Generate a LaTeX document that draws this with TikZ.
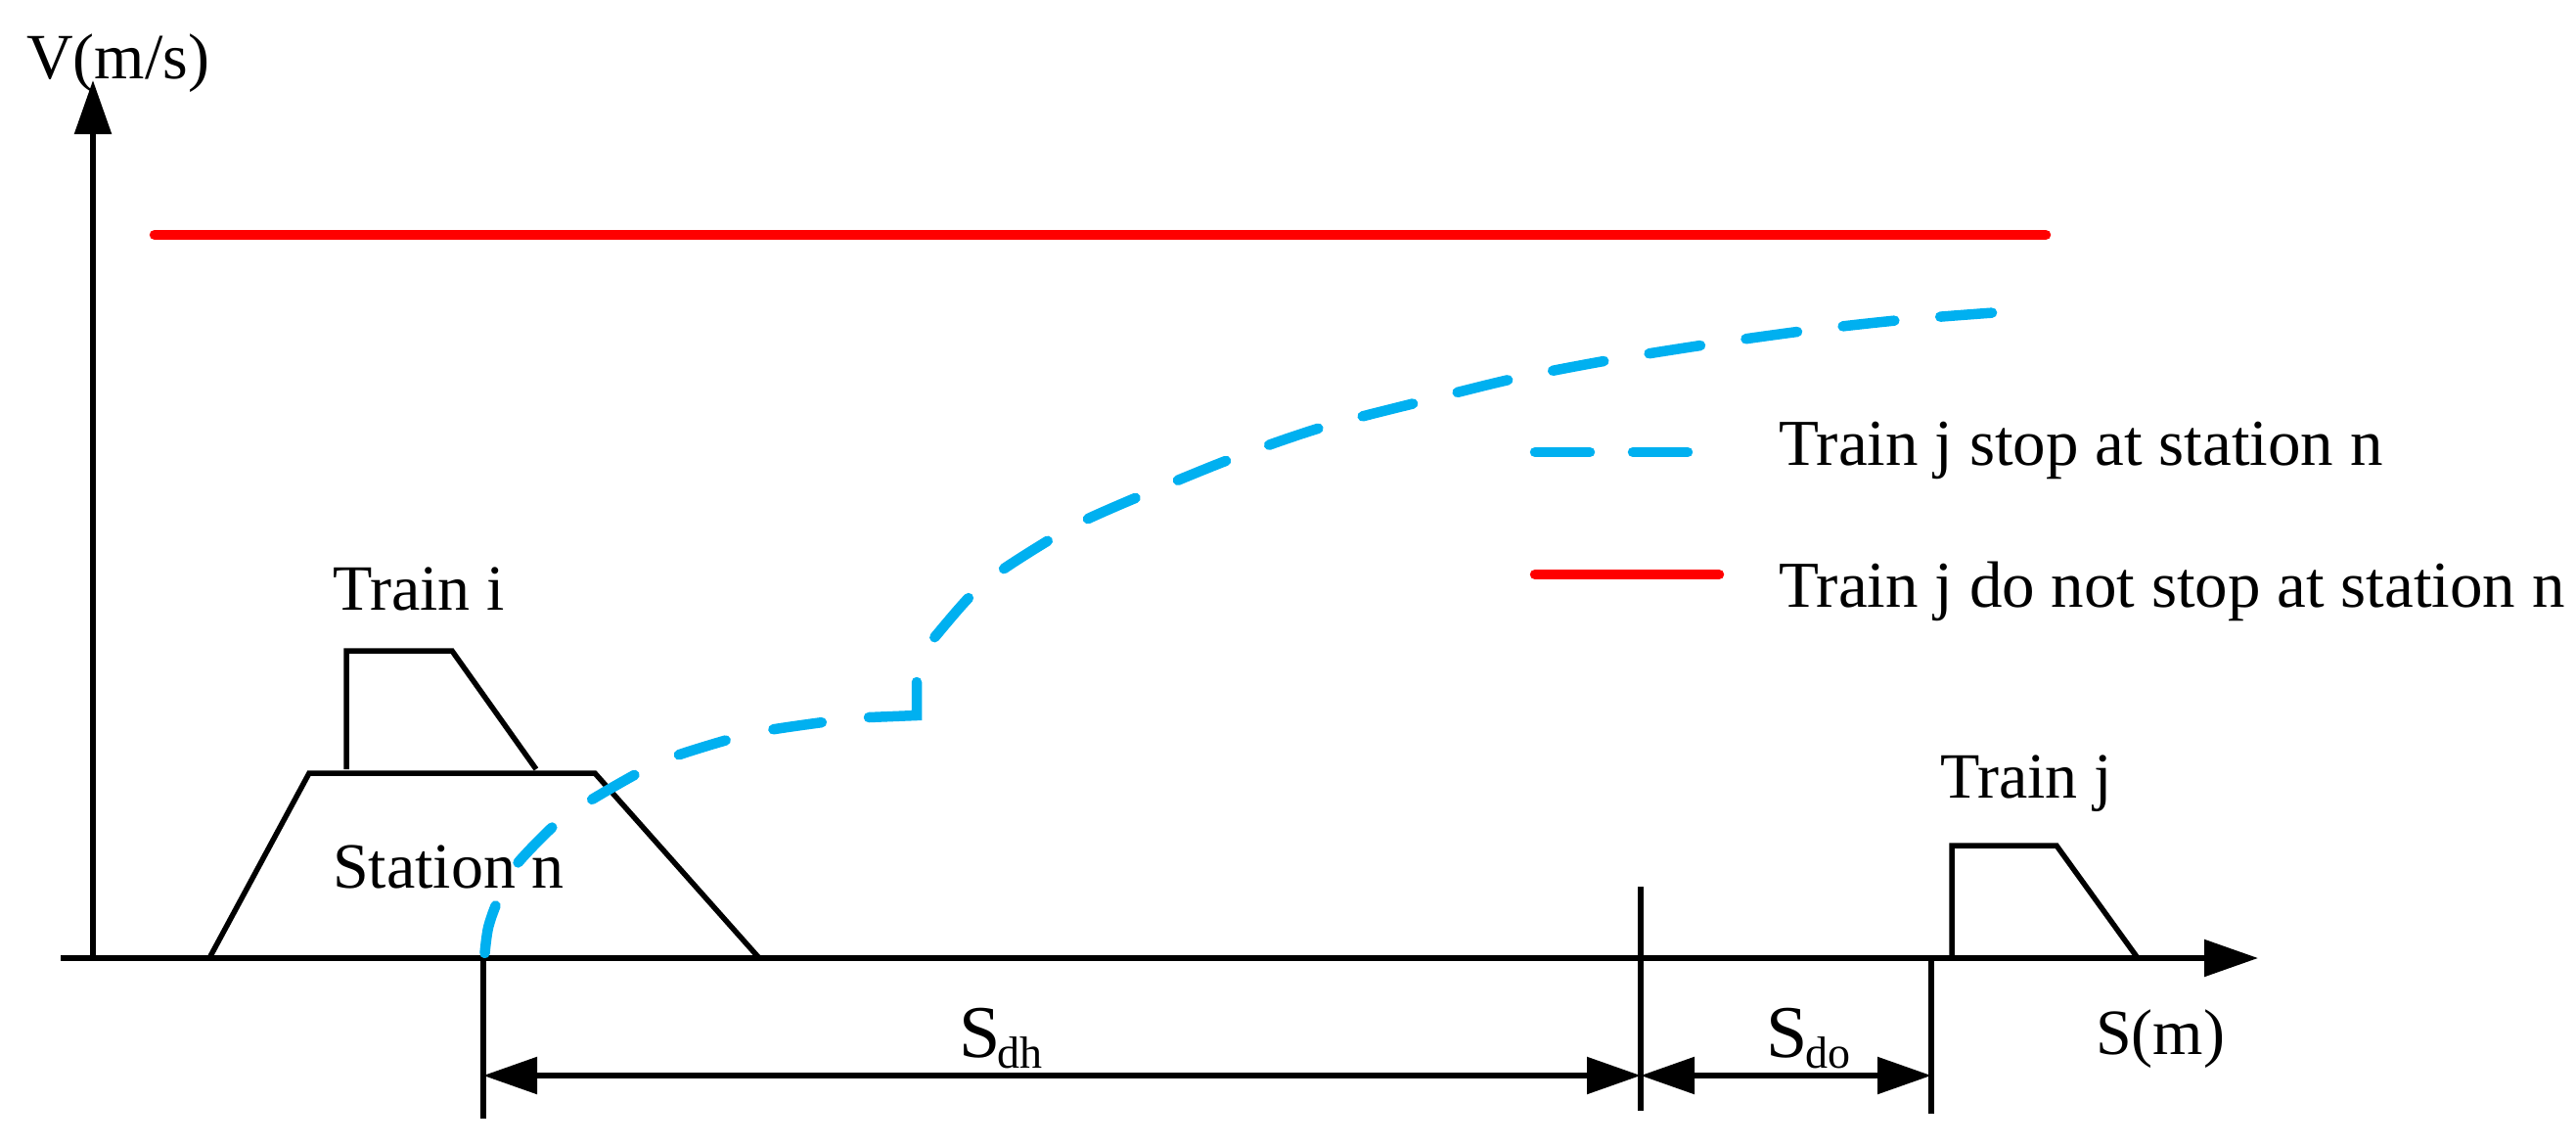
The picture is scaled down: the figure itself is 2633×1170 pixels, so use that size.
\documentclass[tikz,border=0pt]{standalone}
\usepackage{fontspec}
\setmainfont{Liberation Serif}
\usetikzlibrary{arrows.meta}
\definecolor{curveblue}{HTML}{00B0F0}
\definecolor{limitred}{HTML}{FF0000}
\tikzset{
  axisline/.style={line width=5.5pt, -{Triangle[length=55pt,width=37pt]}},
  dimline/.style={line width=5.5pt, {Triangle[length=55pt,width=37pt]}-{Triangle[length=55pt,width=37pt]}},
  blackline/.style={line width=5.5pt, line join=miter},
  bluebase/.style={curveblue, line width=10.5pt, line cap=round, line join=miter},
  bluecurve/.style={bluebase, dash pattern=on 50pt off 50pt},
  bluecurvetwo/.style={bluebase, dash pattern=on 53pt off 47pt},
  bluelegend/.style={bluebase, dash pattern=on 56pt off 44pt},
  redline/.style={limitred, line width=10.5pt, line cap=round},
  lbl/.style={inner sep=0pt, anchor=base west, font=\fontsize{66}{70}\selectfont},
  biglbl/.style={inner sep=0pt, anchor=base west, font=\fontsize{76}{80}\selectfont},
  sublbl/.style={inner sep=0pt, anchor=base west, font=\fontsize{46}{50}\selectfont},
}
\begin{document}
\begin{tikzpicture}[x=1pt,y=-1pt]
\fill[white] (0,0) rectangle (2633,1170);
\useasboundingbox (0,0) rectangle (2633,1170);

% axes
\coordinate (xstart) at (62,979);
\coordinate (xend) at (2308,979);
\coordinate (origin) at (95,979);
\coordinate (yend) at (95,82);
\draw[axisline] (xstart) -- (xend);
\draw[axisline] (origin) -- (yend);
\node[lbl] (vlabel) at (27,80) {V(m/s)};
\node[lbl] (slabel) at (2142,1077) {S(m)};

% speed limit line
\coordinate (r1) at (158,240);
\coordinate (r2) at (2091,240);
\draw[redline] (r1) -- (r2);

% station n
\coordinate (st1) at (214,979);
\coordinate (st2) at (316,790);
\coordinate (st3) at (608,790);
\coordinate (st4) at (776,979);
\draw[blackline] (st1) -- (st2) -- (st3) -- (st4);
\node[lbl] (stn) at (340,907) {Station n};

% train i
\coordinate (ti1) at (354,786);
\coordinate (ti2) at (354,665);
\coordinate (ti3) at (462,665);
\coordinate (ti4) at (548,786);
\draw[blackline] (ti1) -- (ti2) -- (ti3) -- (ti4);
\node[lbl] (traini) at (340,623) {Train i};

% train j
\coordinate (tj1) at (1995,979);
\coordinate (tj2) at (1995,864);
\coordinate (tj3) at (2102,864);
\coordinate (tj4) at (2185,979);
\draw[blackline] (tj1) -- (tj2) -- (tj3) -- (tj4);
\node[lbl] (trainj) at (1983,815) {Train j};

% speed curve of train j stopping at station n
\draw[bluecurve] plot[smooth] coordinates {(495.5,974) (499,948) (508,922) (525,887) (567,843) (600,820) (652,790) (689,773) (747,755) (786,746) (841,738)};
\coordinate (c1) at (888,733);
\coordinate (corner) at (937,731);
\coordinate (c2) at (937,697);
\draw[bluebase] (c1) -- (corner) -- (c2);
\draw[bluecurvetwo] plot[smooth] coordinates {(955.3,651.2) (990,611) (1022,584) (1072,552) (1108,532) (1165,507) (1258,469) (1350,437) (1450,411) (1547,387) (1645,368) (1745,352) (1845,338) (1943,327) (2039,319.4)};

% dimension ticks
\coordinate (k1a) at (494,979);
\coordinate (k1b) at (494,1143);
\coordinate (k2a) at (1677,906);
\coordinate (k2b) at (1677,1135);
\coordinate (k3a) at (1974,979);
\coordinate (k3b) at (1974,1138);
\draw[blackline] (k1a) -- (k1b);
\draw[blackline] (k2a) -- (k2b);
\draw[blackline] (k3a) -- (k3b);

% dimension arrows
\coordinate (d1) at (494,1099);
\coordinate (d2) at (1677,1099);
\coordinate (d3) at (1974,1099);
\draw[dimline] (d1) -- (d2);
\draw[dimline] (d2) -- (d3);
\node[biglbl] (sdh) at (980,1080) {S};
\node[sublbl] (sdhsub) at (1019,1091) {dh};
\node[biglbl] (sdo) at (1805,1080) {S};
\node[sublbl] (sdosub) at (1845,1091) {do};

% legend
\coordinate (lb1) at (1569,462);
\coordinate (lb2) at (1725,462);
\draw[bluelegend] (lb1) -- (lb2);
\node[lbl, font=\fontsize{67}{70}\selectfont] (leg1) at (1818,475) {Train j stop at station n};
\coordinate (lr1) at (1569,587);
\coordinate (lr2) at (1757,587);
\draw[redline] (lr1) -- (lr2);
\node[lbl, font=\fontsize{67}{70}\selectfont] (leg2) at (1818,620) {Train j do not stop at station n};
\end{tikzpicture}
\end{document}
